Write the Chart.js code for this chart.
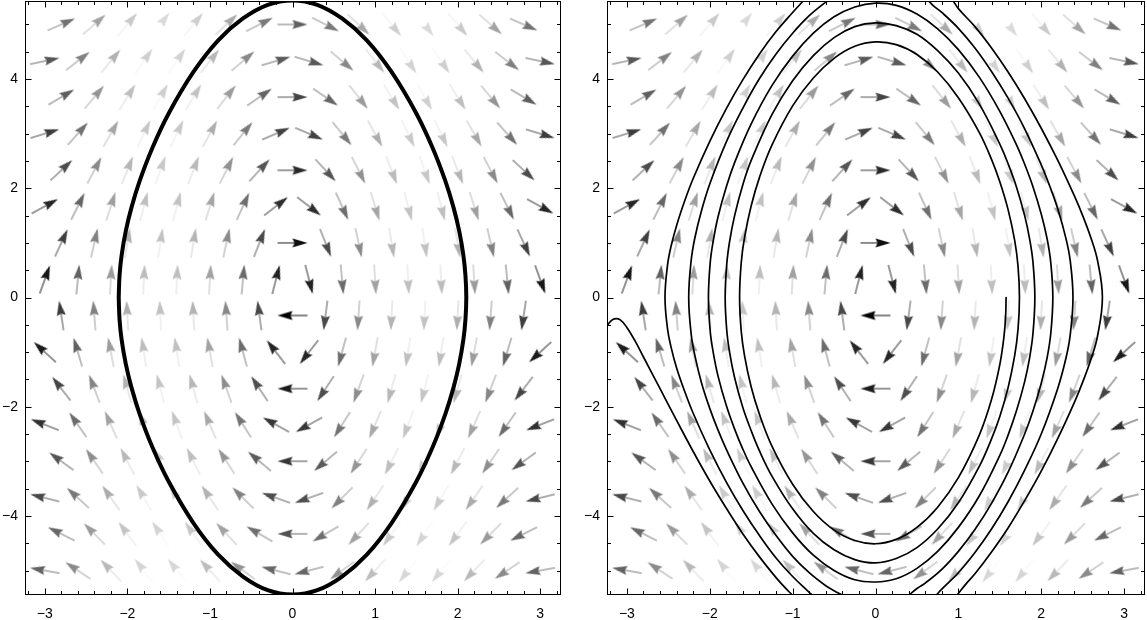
<!DOCTYPE html>
<html><head><meta charset="utf-8">
<script src="https://cdn.jsdelivr.net/npm/chart.js@4.4.1/dist/chart.umd.min.js"></script>
<style>
html,body{margin:0;padding:0;background:#fff;width:1147px;height:620px;overflow:hidden}
canvas{position:absolute;top:0}
#c1{left:0}
#c2{left:582px}
</style></head><body>
<canvas id="c1" width="565" height="620"></canvas>
<canvas id="c2" width="565" height="620"></canvas>
<script>
// ---------- data ----------
const xRange = [-3.24, 3.24];
const yRange = [-5.43, 5.43];
const xTickValues = [-3, -2, -1, 0, 1, 2, 3];
const xTickLabels = ['\u22123', '\u22122', '\u22121', '0', '1', '2', '3'];
const yTickValues = [-4, -2, 0, 2, 4];
const yTickLabels = ['\u22124', '\u22122', '0', '2', '4'];

// vector field sample grid (hexagonal arrangement)
const fieldRowsY = [5.00, 4.33, 3.67, 3.00, 2.33, 1.67, 1.00, 0.33, -0.33, -1.00, -1.67, -2.33, -3.00, -3.67, -4.33, -5.00];
const fieldColsEven = [-2.8, -2.4, -2.0, -1.6, -1.2, -0.8, -0.4, 0, 0.4, 0.8, 1.2, 1.6, 2.0, 2.4, 2.8];
const fieldColsOdd = [-3.0, -2.6, -2.2, -1.8, -1.4, -1.0, -0.6, -0.2, 0.2, 0.6, 1.0, 1.4, 1.8, 2.2, 2.6, 3.0];
const gravity = 9.8; // field: x' = y, y' = -9.8 sin x

// left panel: closed orbit
const orbitX = [-2.105,-2.095,-2.07,-2.02,-1.95,-1.85,-1.7,-1.5,-1.2,-0.9,-0.6,-0.3,0,0.3,0.6,0.9,1.2,1.5,1.7,1.85,1.95,2.02,2.07,2.095,2.105,
  2.095,2.07,2.02,1.95,1.85,1.7,1.5,1.2,0.9,0.6,0.3,0,-0.3,-0.6,-0.9,-1.2,-1.5,-1.7,-1.85,-1.95,-2.02,-2.07,-2.095,-2.105];
const orbitY = [0,0.40,0.77,1.21,1.65,2.14,2.73,3.37,4.13,4.71,5.11,5.36,5.44,5.36,5.11,4.71,4.13,3.37,2.73,2.14,1.65,1.21,0.77,0.40,0,
  -0.40,-0.77,-1.21,-1.65,-2.14,-2.73,-3.37,-4.13,-4.71,-5.11,-5.36,-5.44,-5.36,-5.11,-4.71,-4.13,-3.37,-2.73,-2.14,-1.65,-1.21,-0.77,-0.40,0];

// right panel: outward spiral (null = leaves the frame)
const spiralX = [
 1.576,1.57,1.55,1.5,1.4,1.25,1.0,0.75,0.5,0.25,0,-0.25,-0.5,-0.75,-1.0,-1.25,-1.4,-1.5,-1.58,-1.62,-1.64,
 -1.62,-1.58,-1.5,-1.4,-1.25,-1.0,-0.75,-0.5,-0.25,0,0.25,0.5,0.75,1.0,1.25,1.4,1.5,1.6,1.68,1.72,1.737,
 1.72,1.68,1.6,1.5,1.4,1.25,1.0,0.75,0.5,0.25,0,-0.25,-0.5,-0.75,-1.0,-1.25,-1.4,-1.5,-1.6,-1.7,-1.76,-1.795,-1.814,
 -1.795,-1.76,-1.7,-1.6,-1.5,-1.25,-1.0,-0.75,-0.5,-0.25,0,0.25,0.5,0.75,1.0,1.25,1.5,1.6,1.7,1.8,1.86,1.9,1.923,
 1.9,1.86,1.8,1.7,1.6,1.5,1.25,1.0,0.75,0.5,0.25,0,-0.25,-0.5,-0.75,-1.0,-1.25,-1.5,-1.6,-1.7,-1.8,-1.9,-1.96,-1.995,-2.016,
 -1.995,-1.96,-1.9,-1.8,-1.7,-1.5,-1.25,-1.0,-0.75,-0.5,-0.25,0,0.25,0.5,0.75,1.0,1.25,1.5,1.7,1.8,1.9,2.0,2.07,2.115,2.14,
 2.115,2.07,2.0,1.9,1.8,1.6,1.4,1.2,1.0,0.8,0.6,0.5,0.41, null,
 -0.41,-0.5,-0.6,-0.8,-1.0,-1.2,-1.4,-1.6,-1.8,-1.9,-2.0,-2.1,-2.18,-2.225,-2.254,
 -2.225,-2.18,-2.1,-2.0,-1.8,-1.6,-1.4,-1.2,-1.0,-0.8,-0.6,-0.55, null,
 0.63,0.7,0.8,1.0,1.2,1.4,1.6,1.8,2.0,2.1,2.2,2.3,2.35,2.383,
 2.35,2.3,2.2,2.0,1.8,1.6,1.4,1.2,1.0,0.8,0.74, null,
 -0.77,-0.8,-1.0,-1.2,-1.4,-1.6,-1.8,-2.0,-2.2,-2.3,-2.4,-2.47,-2.51,-2.54,
 -2.51,-2.47,-2.4,-2.3,-2.2,-2.0,-1.8,-1.6,-1.4,-1.2,-1.0,-0.86, null,
 0.93,1.0,1.2,1.4,1.6,1.8,2.0,2.2,2.4,2.5,2.6,2.68,2.738,
 2.68,2.6,2.5,2.4,2.2,2.0,1.8,1.6,1.4,1.2,1.1,0.99, null,
 -1.01,-1.1,-1.2,-1.4,-1.6,-1.8,-2.0,-2.2,-2.4,-2.6,-2.8,-2.9,-3.0,-3.08,-3.15,-3.2,-3.24
];
const spiralY = [
 0,-0.35,-0.72,-1.23,-1.87,-2.53,-3.30,-3.84,-4.21,-4.43,-4.51,-4.45,-4.26,-3.92,-3.42,-2.72,-2.14,-1.64,-1.07,-0.62,0,
 0.64,1.10,1.68,2.20,2.79,3.51,4.02,4.38,4.60,4.68,4.63,4.45,4.13,3.66,3.03,2.53,2.12,1.61,1.04,0.57,0,
 -0.58,-1.06,-1.65,-2.18,-2.59,-3.10,-3.76,-4.24,-4.58,-4.78,-4.86,-4.80,-4.62,-4.32,-3.87,-3.27,-2.81,-2.44,-2.02,-1.47,-1.01,-0.60,0,
 0.61,1.03,1.50,2.07,2.51,3.35,3.97,4.43,4.76,4.96,5.03,4.98,4.82,4.52,4.11,3.55,2.81,2.45,2.03,1.50,1.07,0.65,0,
 -0.66,-1.10,-1.54,-2.08,-2.52,-2.89,-3.64,-4.21,-4.65,-4.96,-5.15,-5.21,-5.17,-5.00,-4.72,-4.31,-3.78,-3.10,-2.78,-2.41,-1.98,-1.44,-0.99,-0.61,0,
 0.63,1.02,1.48,2.03,2.47,3.18,3.88,4.42,4.84,5.14,5.32,5.39,5.35,5.19,4.92,4.54,4.04,3.41,2.80,2.44,2.03,1.53,1.08,0.64,0,
 -0.66,-1.11,-1.57,-2.08,-2.50,-3.20,-3.77,-4.25,-4.65,-4.98,-5.23,-5.33,-5.44, null,
 -5.44,-5.37,-5.28,-5.04,-4.74,-4.36,-3.92,-3.40,-2.78,-2.43,-2.03,-1.56,-1.06,-0.66,0,
 0.67,1.09,1.59,2.08,2.85,3.47,4.01,4.46,4.84,5.16,5.41,5.45, null,
 5.45,5.34,5.22,4.93,4.57,4.14,3.65,3.09,2.43,2.05,1.62,1.07,0.67,0,
 -0.68,-1.10,-1.66,-2.50,-3.16,-3.74,-4.24,-4.67,-5.04,-5.34,-5.44, null,
 -5.44,-5.40,-5.11,-4.77,-4.36,-3.90,-3.38,-2.79,-2.12,-1.73,-1.29,-0.89,-0.57,0,
 0.59,0.92,1.32,1.78,2.18,2.86,3.46,3.99,4.46,4.87,5.22,5.45, null,
 5.45,5.29,4.96,4.57,4.13,3.64,3.10,2.51,1.86,1.50,1.09,0.67,0,
 -0.70,-1.13,-1.55,-1.92,-2.58,-3.18,-3.72,-4.22,-4.66,-5.06,-5.23,-5.44, null,
 -5.44,-5.30,-5.13,-4.75,-4.33,-3.86,-3.36,-2.82,-2.25,-1.67,-1.09,-0.80,-0.55,-0.41,-0.39,-0.44,-0.52
];

// ---------- helpers ----------
const FONT = "'Liberation Sans', Arial, Helvetica, sans-serif";
Chart.defaults.font.family = FONT;

function toPoints(xs, ys) { return xs.map((x, i) => ({x, y: ys[i]})); }
function splitPieces(xs, ys) {
  const pieces = []; let cur = [];
  xs.forEach((x, i) => {
    if (x === null || ys[i] === null) { if (cur.length) pieces.push(cur); cur = []; }
    else cur.push({x, y: ys[i]});
  });
  if (cur.length) pieces.push(cur);
  return pieces;
}

function buildField() {
  const pts = [];
  fieldRowsY.forEach((y, i) => {
    (i % 2 === 0 ? fieldColsEven : fieldColsOdd).forEach(x => {
      pts.push({x, y, m: Math.hypot(y, gravity * Math.sin(x))});
    });
  });
  const ms = pts.map(p => p.m);
  const lo = Math.min(...ms), hi = Math.max(...ms);
  pts.forEach(p => { p.g = Math.round(218 * (p.m - lo) / (hi - lo)); });
  return pts;
}

const arrowCache = {};
function arrowImage(g) {
  if (arrowCache[g]) return arrowCache[g];
  const c = document.createElement('canvas');
  c.width = 32; c.height = 14;
  const k = c.getContext('2d');
  const col = 'rgb(' + g + ',' + g + ',' + g + ')';
  const sg = Math.min(255, g + 35);
  k.strokeStyle = 'rgb(' + sg + ',' + sg + ',' + sg + ')'; k.lineWidth = 1.1;
  k.beginPath(); k.moveTo(1, 7); k.lineTo(18, 7); k.stroke();
  k.fillStyle = col;
  k.beginPath(); k.moveTo(31, 7); k.lineTo(16, 2.5); k.lineTo(18, 7); k.lineTo(16, 11.5); k.closePath(); k.fill();
  arrowCache[g] = c;
  return c;
}

function arrowDataset() {
  return {
    label: 'field',
    data: buildField(),
    order: 5,
    showLine: false,
    pointRadius: 2,
    pointStyle: ctx => (ctx.raw ? arrowImage(ctx.raw.g) : 'circle'),
    rotation: ctx => {
      const p = ctx.raw; if (!p) return 0;
      const xs = ctx.chart.scales.x, ys = ctx.chart.scales.y;
      const kx = xs.getPixelForValue(1) - xs.getPixelForValue(0);
      const ky = ys.getPixelForValue(0) - ys.getPixelForValue(1);
      const vx = p.y, vy = -gravity * Math.sin(p.x);
      return Math.atan2(-vy * ky, vx * kx) * 180 / Math.PI;
    }
  };
}

function curveDataset(points, width) {
  return {
    data: points, order: 0, showLine: true, pointRadius: 0,
    borderColor: '#000', borderWidth: width, tension: 0.4,
    borderCapStyle: 'round', borderJoinStyle: 'round', fill: false
  };
}

const framePlugin = {
  id: 'frame',
  afterDatasetsDraw(chart) {
    const {ctx, chartArea: a, scales: {x, y}} = chart;
    ctx.save();
    ctx.strokeStyle = '#000'; ctx.lineWidth = 1;
    ctx.strokeRect(a.left + 0.5, a.top + 0.5, a.right - a.left, a.bottom - a.top);
    ctx.beginPath();
    for (let i = -16; i <= 16; i++) {
      const v = i / 5;
      const major = i % 5 === 0;
      const L = major ? 6 : 3.5;
      const px = Math.round(x.getPixelForValue(v)) + 0.5;
      ctx.moveTo(px, a.bottom + 0.5); ctx.lineTo(px, a.bottom + 0.5 - L);
      ctx.moveTo(px, a.top + 0.5); ctx.lineTo(px, a.top + 0.5 + L);
    }
    for (let i = -10; i <= 10; i++) {
      const v = i / 2;
      const major = i % 4 === 0;
      const L = major ? 6 : 3.5;
      const py = Math.round(y.getPixelForValue(v)) + 0.5;
      ctx.moveTo(a.left + 0.5, py); ctx.lineTo(a.left + 0.5 + L, py);
      ctx.moveTo(a.right + 0.5, py); ctx.lineTo(a.right + 0.5 - L, py);
    }
    ctx.stroke();
    ctx.restore();
  }
};

function makeChart(id, curves, padRight) {
  return new Chart(document.getElementById(id), {
    type: 'scatter',
    data: {datasets: [...curves, arrowDataset()]},
    options: {
      responsive: false, animation: false, events: [],
      layout: {autoPadding: false, padding: {top: 1, right: padRight, left: 0, bottom: 0}},
      plugins: {legend: {display: false}, tooltip: {enabled: false}},
      scales: {
        x: {
          type: 'linear', min: xRange[0], max: xRange[1],
          grid: {display: false, drawTicks: false}, border: {display: false},
          afterBuildTicks: s => { s.ticks = xTickValues.map(v => ({value: v})); },
          afterFit: s => { s.height = 26; s.paddingLeft = 0; s.paddingRight = 0; },
          ticks: {padding: 12, color: '#000', font: {family: FONT, size: 14}, autoSkip: false, maxRotation: 0,
                  callback: (v, i) => xTickLabels[i]}
        },
        y: {
          type: 'linear', min: yRange[0], max: yRange[1],
          grid: {display: false, drawTicks: false}, border: {display: false},
          afterBuildTicks: s => { s.ticks = yTickValues.map(v => ({value: v})); },
          afterFit: s => { s.width = 25; s.paddingTop = 0; s.paddingBottom = 0; },
          ticks: {padding: 7, color: '#000', font: {family: FONT, size: 14}, autoSkip: false,
                  callback: (v, i) => yTickLabels[i]}
        }
      }
    },
    plugins: [framePlugin]
  });
}

makeChart('c1', [curveDataset(toPoints(orbitX, orbitY), 4)], 5);
makeChart('c2', splitPieces(spiralX, spiralY).map(p => curveDataset(p, 1.7)), 3);
</script>
</body></html>
